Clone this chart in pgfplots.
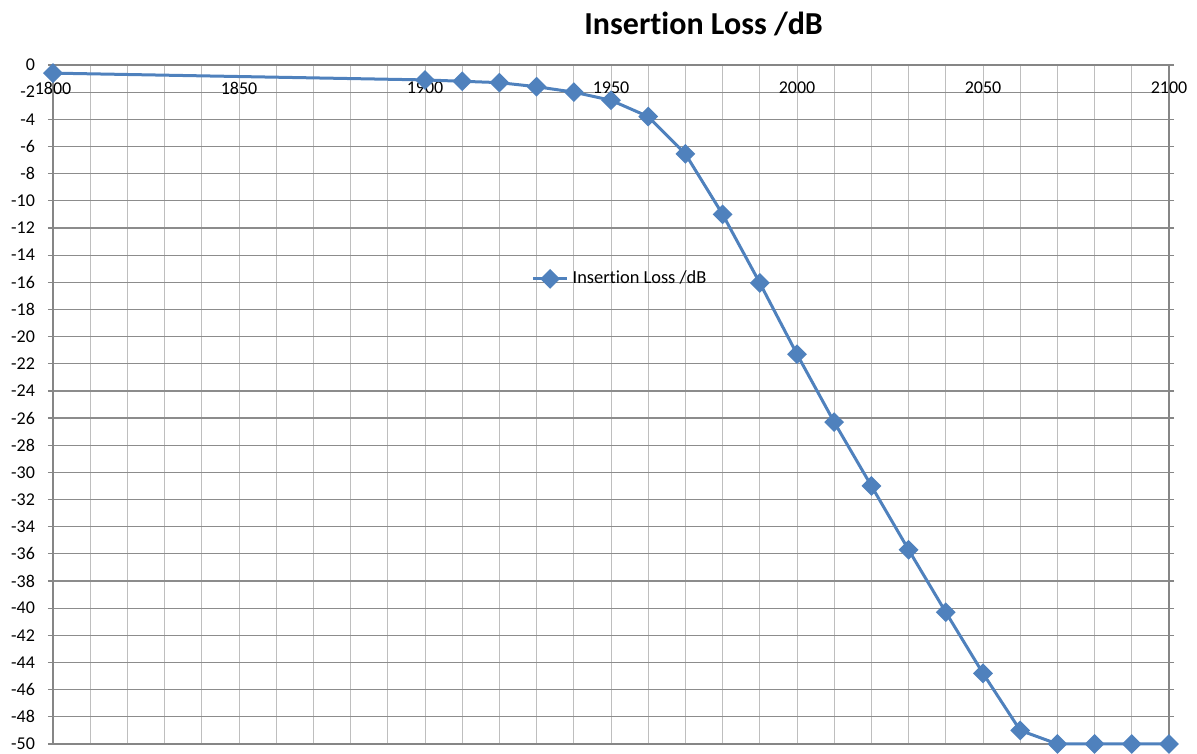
\documentclass[border=0pt]{standalone}
\usepackage{fontspec}
\setmainfont{Carlito}[Ligatures=NoCommon]
\usepackage{pgfplots}
\pgfplotsset{compat=1.18}
\definecolor{xlblue}{HTML}{4F81BD}
\definecolor{hgrid}{HTML}{8C8C8C}
\definecolor{vgrid}{HTML}{BEBEBE}
\definecolor{axgray}{HTML}{868686}

\begin{document}
\begin{tikzpicture}
\begin{axis}[
    width=558pt, height=339.5pt, scale only axis,
    xmin=1800, xmax=2100, ymin=-50, ymax=0,
    xtick={1800,1850,...,2100},
    minor xtick={1810,1820,...,2090},
    ytick={-50,-48,...,0},
    grid=both,
    every axis x grid/.append style={vgrid, line width=0.5pt},
    every axis y grid/.append style={hgrid, line width=0.6pt},
    axis line style={axgray, line width=0.6pt},
    xtick style={draw=none},
    minor x tick style={draw=none},
    ytick style={axgray, line width=0.6pt},
    tick align=outside,
    major tick length=2.5pt,
    xticklabel pos=upper,
    xticklabel style={anchor=north, yshift=-7.5pt},
    yticklabel style={xshift=-3pt},
    tick label style={font=\fontsize{9}{10}\selectfont},
    /pgf/number format/assume math mode=true,
    /pgf/number format/1000 sep={},
    clip=false,
    legend style={at={(0.423,0.685)}, anchor=west, draw=none, fill=none,
        font=\fontsize{9.2}{10}\selectfont},
    legend cell align=left,
]
\addplot[xlblue, line width=1.5pt, mark=square*, mark size=2.75pt,
    mark options={rotate=45, solid}] coordinates {
    (1800,-0.6) (1900,-1.1) (1910,-1.2) (1920,-1.3) (1930,-1.6)
    (1940,-2.0) (1950,-2.6) (1960,-3.8) (1970,-6.55) (1980,-11.0)
    (1990,-16.05) (2000,-21.3) (2010,-26.3) (2020,-31.0) (2030,-35.7)
    (2040,-40.3) (2050,-44.8) (2060,-49.0) (2070,-50) (2080,-50)
    (2090,-50) (2100,-50)
};
\addlegendentry{Insertion Loss /dB}
\node[font=\fontsize{16}{19}\selectfont\bfseries, yshift=20.5pt]
    at (rel axis cs:0.583,1) {Insertion Loss /dB};
\coordinate (sw) at (rel axis cs:0,0);
\coordinate (ne) at (rel axis cs:1,1);
\end{axis}
\pgfresetboundingbox
\path[use as bounding box] ([shift={(-26.5pt,-5pt)}]sw) rectangle ([shift={(14pt,32.5pt)}]ne);
\end{tikzpicture}
\end{document}
